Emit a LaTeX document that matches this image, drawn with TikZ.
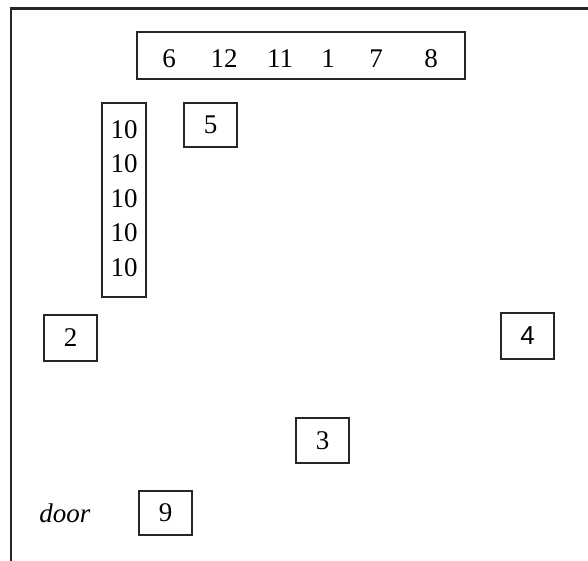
\documentclass[tikz,border=0pt]{standalone}
\usepackage{fontspec}
\setmainfont{Liberation Serif}
\newfontfamily\sansf{Liberation Sans}
\begin{document}
\begin{tikzpicture}[x=1pt,y=-1pt,
  boxed/.style={draw=black!85, line width=2.5pt, inner sep=0pt},
  lbl/.style={inner sep=0pt, font=\fontsize{27}{30}\selectfont}]
\useasboundingbox (0,0) rectangle (588,561);
\coordinate (wl) at (11,561);
\coordinate (wc) at (11,8.5);
\coordinate (wr) at (588,8.5);
\draw[line width=2.8pt, black!85] (wl) -- (wc) -- (wr);
% top row
\node[boxed, minimum width=328pt, minimum height=47pt] (top) at (301,55.5) {};
\node[lbl] (t6) at (169,58.5) {6};
\node[lbl] (t12) at (224,58.5) {12};
\node[lbl] (t11) at (280,58.5) {11};
\node[lbl] (t1) at (328,58.5) {1};
\node[lbl] (t7) at (376,58.5) {7};
\node[lbl] (t8) at (431,58.5) {8};
% column of 10
\node[boxed, minimum width=44pt, minimum height=194pt] (col) at (124,200) {};
\node[lbl] (c1) at (124,130) {10};
\node[lbl] (c2) at (124,164) {10};
\node[lbl] (c3) at (124,198.5) {10};
\node[lbl] (c4) at (124,233) {10};
\node[lbl] (c5) at (124,267.5) {10};
% single boxes
\node[boxed, minimum width=53pt, minimum height=44pt, lbl] (b5) at (210.5,125) {5};
\node[boxed, minimum width=53pt, minimum height=46pt, lbl] (b2) at (70.5,338) {2};
\node[boxed, minimum width=53pt, minimum height=46pt, lbl, font=\sansf\fontsize{26}{30}\selectfont] (b4) at (527.5,336) {4};
\node[boxed, minimum width=53pt, minimum height=45pt, lbl] (b3) at (322.5,440.5) {3};
\node[boxed, minimum width=53pt, minimum height=44pt, lbl] (b9) at (165.5,513) {9};
\node[lbl, font=\itshape\fontsize{27}{30}\selectfont] (door) at (65,513.5) {door};
\end{tikzpicture}
\end{document}
